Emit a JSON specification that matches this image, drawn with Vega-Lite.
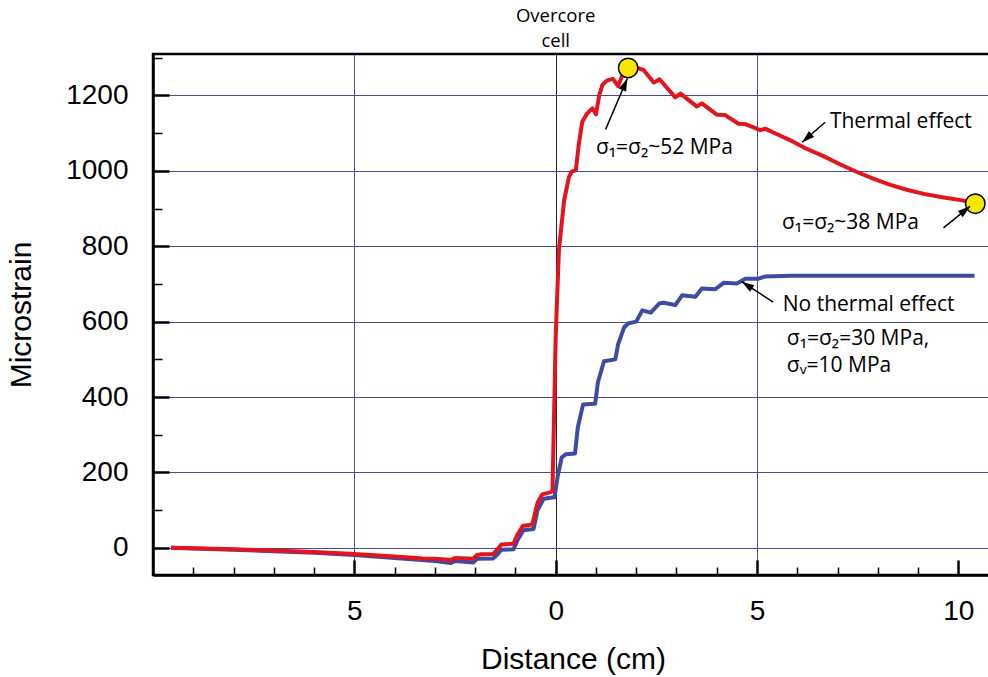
{
  "$schema": "https://vega.github.io/schema/vega-lite/v6.json",
  "autosize": "none",
  "width": 840,
  "height": 521,
  "padding": {"left": 153, "top": 54, "right": 0, "bottom": 102},
  "background": "white",
  "config": {
    "view": {"stroke": "black", "strokeWidth": 2.5},
    "axis": {"labelFont": "Liberation Sans", "titleFont": "Liberation Sans", "labelColor": "black", "titleColor": "black", "titleFontWeight": "normal"}
  },
  "datasets": {
    "thermal": [
      {"x": -9.55, "y": 0}, {"x": -8, "y": -4}, {"x": -7, "y": -7}, {"x": -6, "y": -11}, {"x": -5, "y": -16},
      {"x": -4, "y": -23}, {"x": -3.3, "y": -28}, {"x": -3.0, "y": -29}, {"x": -2.75, "y": -31}, {"x": -2.6, "y": -32},
      {"x": -2.5, "y": -27}, {"x": -2.05, "y": -29}, {"x": -1.95, "y": -19}, {"x": -1.85, "y": -17}, {"x": -1.55, "y": -16},
      {"x": -1.45, "y": -5}, {"x": -1.35, "y": 9}, {"x": -1.05, "y": 11}, {"x": -0.95, "y": 35}, {"x": -0.82, "y": 58},
      {"x": -0.58, "y": 62}, {"x": -0.45, "y": 120}, {"x": -0.33, "y": 142}, {"x": -0.12, "y": 148}, {"x": -0.08, "y": 150},
      {"x": -0.05, "y": 300}, {"x": 0.0, "y": 560}, {"x": 0.08, "y": 790}, {"x": 0.21, "y": 922}, {"x": 0.33, "y": 984},
      {"x": 0.4, "y": 998}, {"x": 0.5, "y": 1002}, {"x": 0.58, "y": 1075}, {"x": 0.66, "y": 1130}, {"x": 0.78, "y": 1152},
      {"x": 0.91, "y": 1166}, {"x": 1.0, "y": 1150}, {"x": 1.08, "y": 1200}, {"x": 1.16, "y": 1228}, {"x": 1.28, "y": 1240},
      {"x": 1.42, "y": 1244}, {"x": 1.55, "y": 1225}, {"x": 1.65, "y": 1252}, {"x": 1.8, "y": 1272}, {"x": 2.07, "y": 1272},
      {"x": 2.19, "y": 1267}, {"x": 2.44, "y": 1234}, {"x": 2.58, "y": 1243}, {"x": 2.97, "y": 1195}, {"x": 3.1, "y": 1205},
      {"x": 3.5, "y": 1171}, {"x": 3.63, "y": 1179}, {"x": 4.0, "y": 1149}, {"x": 4.21, "y": 1148}, {"x": 4.54, "y": 1125},
      {"x": 4.71, "y": 1124}, {"x": 5.08, "y": 1108}, {"x": 5.2, "y": 1112}, {"x": 5.5, "y": 1097}, {"x": 5.83, "y": 1081},
      {"x": 6.2, "y": 1060}, {"x": 6.65, "y": 1039}, {"x": 7.07, "y": 1017}, {"x": 7.48, "y": 997}, {"x": 7.9, "y": 979},
      {"x": 8.31, "y": 963}, {"x": 8.72, "y": 950}, {"x": 9.14, "y": 939}, {"x": 9.6, "y": 930}, {"x": 10.13, "y": 921},
      {"x": 10.42, "y": 913}
    ],
    "nothermal": [
      {"x": -9.55, "y": 0}, {"x": -8, "y": -5}, {"x": -7, "y": -9}, {"x": -6, "y": -13}, {"x": -5, "y": -19},
      {"x": -4, "y": -27}, {"x": -3, "y": -35}, {"x": -2.6, "y": -40}, {"x": -2.5, "y": -35}, {"x": -2.05, "y": -39},
      {"x": -1.95, "y": -29}, {"x": -1.55, "y": -28}, {"x": -1.45, "y": -18}, {"x": -1.35, "y": -5}, {"x": -1.05, "y": -4},
      {"x": -0.95, "y": 20}, {"x": -0.8, "y": 47}, {"x": -0.55, "y": 50}, {"x": -0.45, "y": 100}, {"x": -0.3, "y": 130},
      {"x": -0.03, "y": 134}, {"x": 0.05, "y": 190}, {"x": 0.15, "y": 240}, {"x": 0.25, "y": 248}, {"x": 0.48, "y": 250},
      {"x": 0.55, "y": 320}, {"x": 0.68, "y": 380}, {"x": 0.98, "y": 382}, {"x": 1.05, "y": 440}, {"x": 1.2, "y": 495},
      {"x": 1.48, "y": 500}, {"x": 1.55, "y": 540}, {"x": 1.7, "y": 585}, {"x": 1.8, "y": 595}, {"x": 2.0, "y": 600},
      {"x": 2.15, "y": 630}, {"x": 2.36, "y": 624}, {"x": 2.57, "y": 648}, {"x": 2.68, "y": 650}, {"x": 2.97, "y": 644},
      {"x": 3.14, "y": 670}, {"x": 3.47, "y": 666}, {"x": 3.63, "y": 688}, {"x": 3.96, "y": 686}, {"x": 4.17, "y": 703},
      {"x": 4.5, "y": 701}, {"x": 4.71, "y": 714}, {"x": 5.04, "y": 714}, {"x": 5.2, "y": 720}, {"x": 5.83, "y": 722},
      {"x": 10.4, "y": 722}
    ],
    "markers": [
      {"x": 1.8, "y": 1273},
      {"x": 10.42, "y": 913}
    ],
    "arrows": [
      {"x": 1.24, "y": 1110, "x2": 1.78, "y2": 1245},
      {"x": 6.69, "y": 1129, "x2": 6.12, "y2": 1076},
      {"x": 9.63, "y": 849, "x2": 10.29, "y2": 906},
      {"x": 5.4, "y": 652, "x2": 4.62, "y2": 706}
    ],
    "notes": [
      {"x": 1.0, "y": 1044, "label": "σ₁=σ₂~52 MPa"},
      {"x": 6.81, "y": 1113, "label": "Thermal effect"},
      {"x": 5.62, "y": 845, "label": "σ₁=σ₂~38 MPa"},
      {"x": 5.64, "y": 629, "label": "No thermal effect"},
      {"x": 5.74, "y": 538, "label": "σ₁=σ₂=30 MPa,"},
      {"x": 5.74, "y": 467, "label": "σᵥ=10 MPa"}
    ],
    "header": [
      {"x": 0, "y": 1394, "label": "Overcore\ncell"}
    ]
  },
  "layer": [
    {
      "data": {"name": "nothermal"},
      "mark": {"type": "line", "color": "#3d4ba2", "strokeWidth": 4, "strokeJoin": "round"},
      "encoding": {
        "x": {
          "field": "x", "type": "quantitative",
          "scale": {"domain": [-10, 10.86], "nice": false, "zero": false},
          "axis": {
            "title": "Distance (cm)",
            "values": [-9, -8, -7, -6, -5, -4, -3, -2, -1, 0, 1, 2, 3, 4, 5, 6, 7, 8, 9, 10],
            "labelExpr": "datum.value % 5 === 0 ? format(abs(datum.value), 'd') : ''",
            "labelFontSize": 28,
            "labelPadding": 37,
            "labelFlush": false,
            "labelOverlap": false,
            "tickColor": "black",
            "tickSize": {"condition": {"test": "datum.value % 5 === 0", "value": -15}, "value": -8},
            "tickWidth": {"condition": {"test": "datum.value % 5 === 0", "value": 2.5}, "value": 1.5},
            "domainColor": "black",
            "domainWidth": 2.5,
            "grid": true,
            "gridColor": {"condition": {"test": "datum.value === 0", "value": "#222222"}, "value": "#4a4a98"},
            "gridOpacity": {"condition": {"test": "datum.value % 5 === 0 && datum.value < 10", "value": 1}, "value": 0},
            "gridWidth": 1,
            "titleFontSize": 30,
            "titlePadding": 12
          }
        },
        "y": {
          "field": "y", "type": "quantitative",
          "scale": {"domain": [-72, 1310], "nice": false, "zero": false},
          "axis": {
            "title": "Microstrain",
            "values": [0, 100, 200, 300, 400, 500, 600, 700, 800, 900, 1000, 1100, 1200, 1300],
            "format": "d",
            "labelExpr": "datum.value % 200 === 0 && datum.value <= 1200 ? datum.label : ''",
            "labelFontSize": 28,
            "labelPadding": 41,
            "labelFlush": false,
            "labelOverlap": false,
            "tickColor": "black",
            "tickSize": {"condition": {"test": "datum.value % 200 === 0", "value": -16}, "value": -9},
            "tickWidth": {"condition": {"test": "datum.value % 200 === 0", "value": 2.5}, "value": 1.5},
            "domainColor": "black",
            "domainWidth": 2.5,
            "grid": true,
            "gridColor": "#4a4a98",
            "gridOpacity": {"condition": {"test": "datum.value % 200 === 0 && datum.value <= 1200", "value": 1}, "value": 0},
            "gridWidth": 1,
            "titleFontSize": 30,
            "titlePadding": 29
          }
        }
      }
    },
    {
      "data": {"name": "thermal"},
      "mark": {"type": "line", "color": "#e3141c", "strokeWidth": 4, "strokeJoin": "round"},
      "encoding": {
        "x": {"field": "x", "type": "quantitative"},
        "y": {"field": "y", "type": "quantitative"}
      }
    },
    {
      "data": {"name": "markers"},
      "mark": {"type": "point", "shape": "circle", "filled": true, "fill": "#f7e600", "stroke": "black", "strokeWidth": 1.5, "size": 380, "opacity": 1},
      "encoding": {
        "x": {"field": "x", "type": "quantitative"},
        "y": {"field": "y", "type": "quantitative"}
      }
    },
    {
      "data": {"name": "arrows"},
      "mark": {"type": "rule", "color": "black", "strokeWidth": 1.5},
      "encoding": {
        "x": {"field": "x", "type": "quantitative"},
        "y": {"field": "y", "type": "quantitative"},
        "x2": {"field": "x2"},
        "y2": {"field": "y2"}
      }
    },
    {
      "data": {"name": "arrows"},
      "transform": [
        {"calculate": "atan2((datum.x2 - datum.x) * 40.27, (datum.y2 - datum.y) * 0.377) * 180 / PI", "as": "ang"}
      ],
      "mark": {"type": "point", "shape": "M0,0L-0.4,1.25L0.4,1.25Z", "filled": true, "color": "black", "size": 400, "opacity": 1},
      "encoding": {
        "x": {"field": "x2", "type": "quantitative"},
        "y": {"field": "y2", "type": "quantitative"},
        "angle": {"field": "ang", "type": "quantitative", "scale": null}
      }
    },
    {
      "data": {"name": "notes"},
      "mark": {"type": "text", "align": "left", "baseline": "alphabetic", "font": "Open Sans, Noto Sans, DejaVu Sans", "fontSize": 21, "color": "black"},
      "encoding": {
        "x": {"field": "x", "type": "quantitative"},
        "y": {"field": "y", "type": "quantitative"},
        "text": {"field": "label"}
      }
    },
    {
      "data": {"name": "header"},
      "mark": {"type": "text", "align": "center", "baseline": "alphabetic", "font": "Open Sans, Noto Sans, DejaVu Sans", "fontSize": 18.5, "lineBreak": "\n", "lineHeight": 25, "color": "black"},
      "encoding": {
        "x": {"field": "x", "type": "quantitative"},
        "y": {"field": "y", "type": "quantitative"},
        "text": {"field": "label"}
      }
    }
  ]
}
